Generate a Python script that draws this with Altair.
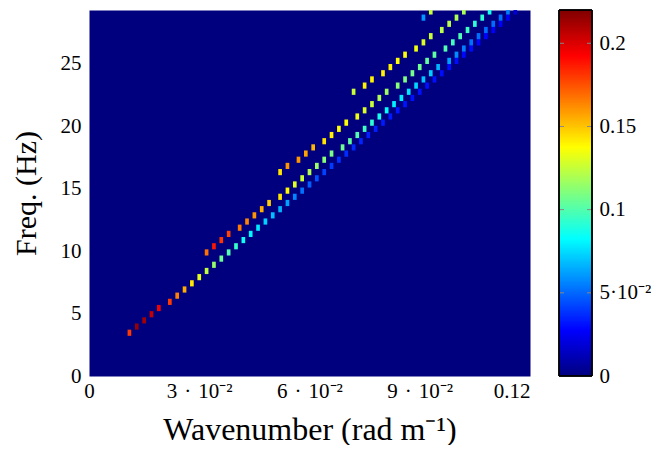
import altair as alt
import pandas as pd
import numpy as np

# spectral grid resolution (cell size of the image)
dk = 0.001      # rad/m
df_hz = 0.4943  # Hz

# centre frequencies of the rows that hold energy (rows 7 .. 59)
freq_hz = [3.460, 3.954, 4.449, 4.943, 5.437, 5.932, 6.426, 6.920, 7.415, 7.909,
           8.403, 8.897, 9.392, 9.886, 10.380, 10.875, 11.369, 11.863, 12.358, 12.852,
           13.346, 13.840, 14.335, 14.829, 15.323, 15.818, 16.312, 16.806, 17.301, 17.795,
           18.289, 18.783, 19.278, 19.772, 20.266, 20.761, 21.255, 21.749, 22.244, 22.738,
           23.232, 23.726, 24.221, 24.715, 25.209, 25.704, 26.198, 26.692, 27.187, 27.681,
           28.175, 28.669, 29.164]

# mode 1 (fundamental), rows 7..59
mode1_k = [0.011, 0.013, 0.015, 0.017, 0.019, 0.022, 0.024, 0.026, 0.028, 0.030,
           0.032, 0.034, 0.036, 0.038, 0.040, 0.042, 0.044, 0.046, 0.048, 0.050,
           0.052, 0.054, 0.056, 0.058, 0.060, 0.062, 0.064, 0.066, 0.068, 0.070,
           0.072, 0.074, 0.076, 0.078, 0.080, 0.082, 0.084, 0.086, 0.088, 0.090,
           0.092, 0.094, 0.096, 0.098, 0.100, 0.102, 0.104, 0.106, 0.108, 0.110,
           0.112, 0.114, 0.116]
mode1_v = [0.180, 0.215, 0.212, 0.205, 0.195, 0.180, 0.165, 0.155, 0.142, 0.132,
           0.124, 0.115, 0.106, 0.100, 0.094, 0.086, 0.081, 0.078, 0.073, 0.069,
           0.066, 0.062, 0.056, 0.052, 0.048, 0.045, 0.042, 0.040, 0.038, 0.037,
           0.036, 0.035, 0.034, 0.034, 0.033, 0.033, 0.032, 0.032, 0.031, 0.031,
           0.031, 0.031, 0.030, 0.030, 0.030, 0.029, 0.029, 0.028, 0.028, 0.027,
           0.027, 0.026, 0.018]

# mode 2, rows 20..59
mode2_k = [0.032, 0.034, 0.036, 0.038, 0.041, 0.043, 0.045, 0.047, 0.049, 0.052,
           0.054, 0.056, 0.058, 0.060, 0.062, 0.064, 0.066, 0.069, 0.071, 0.073,
           0.075, 0.077, 0.079, 0.081, 0.083, 0.085, 0.087, 0.089, 0.091, 0.093,
           0.095, 0.098, 0.100, 0.102, 0.104, 0.106, 0.108, 0.110, 0.112, 0.114]
mode2_v = [0.168, 0.188, 0.181, 0.178, 0.166, 0.164, 0.160, 0.155, 0.148, 0.143,
           0.139, 0.131, 0.126, 0.121, 0.116, 0.112, 0.109, 0.106, 0.103, 0.100,
           0.096, 0.092, 0.087, 0.083, 0.080, 0.078, 0.077, 0.074, 0.070, 0.072,
           0.066, 0.062, 0.058, 0.055, 0.052, 0.052, 0.051, 0.051, 0.052, 0.055]

# mode 3, rows 33..59
mode3_k = [0.052, 0.054, 0.057, 0.059, 0.061, 0.064, 0.066, 0.068, 0.070, 0.073,
           0.075, 0.077, 0.079, 0.081, 0.084, 0.086, 0.088, 0.090, 0.092, 0.094,
           0.097, 0.099, 0.101, 0.103, 0.105, 0.107, 0.109]
mode3_v = [0.143, 0.160, 0.160, 0.157, 0.153, 0.143, 0.140, 0.137, 0.137, 0.134,
           0.130, 0.126, 0.120, 0.117, 0.112, 0.110, 0.108, 0.107, 0.104, 0.103,
           0.100, 0.097, 0.099, 0.096, 0.092, 0.092, 0.087]

# mode 4, rows 46..59
mode4_k = [0.072, 0.075, 0.077, 0.080, 0.082, 0.084, 0.086, 0.089, 0.091, 0.093,
           0.096, 0.098, 0.100, 0.102]
mode4_v = [0.126, 0.140, 0.140, 0.140, 0.140, 0.137, 0.137, 0.134, 0.130, 0.126,
           0.122, 0.122, 0.120, 0.119]

# mode 5, rows 58..59
mode5_k = [0.091, 0.093]
mode5_v = [0.060, 0.125]

x_ticks = [0, 0.03, 0.06, 0.09, 0.12]
y_ticks = [0, 5, 10, 15, 20, 25]
cb_ticks = [0, 0.05, 0.1, 0.15, 0.2]
cb_inner_ticks = [0.05, 0.1, 0.15, 0.2]

jet = ["#00007f", "#0000ff", "#007fff", "#00ffff", "#7fff7f",
       "#ffff00", "#ff7f00", "#ff0000", "#7f0000"]
vmax = 0.22

frames = []
for ks, vs, start in [(mode1_k, mode1_v, 0), (mode2_k, mode2_v, 13),
                      (mode3_k, mode3_v, 26), (mode4_k, mode4_v, 39),
                      (mode5_k, mode5_v, 51)]:
    fs = freq_hz[start:start + len(ks)]
    frames.append(pd.DataFrame({"k": ks, "f": fs, "v": vs}))
cells = pd.concat(frames, ignore_index=True)
cells["k0"] = cells["k"] - dk / 2
cells["k1"] = cells["k"] + dk / 2
cells["f0"] = cells["f"] - df_hz / 2
cells["f1"] = cells["f"] + df_hz / 2

FONT = "Liberation Serif"
color_scale = alt.Scale(domain=[0, vmax], range=jet, interpolate="rgb")

main = alt.Chart(cells).mark_rect(clip=True).encode(
    x=alt.X("k0:Q", title="Wavenumber (rad m⁻¹)",
            scale=alt.Scale(domain=[0, 0.12], nice=False, zero=False),
            axis=alt.Axis(values=x_ticks, ticks=False, domain=False, grid=False,
                          labelFlush=False,
                          labelAlign={"condition": {"test": "datum.value > 0.11", "value": "right"},
                                      "value": "center"},
                          labelPadding=4, titlePadding=13, titleFontSize=32,
                          labelExpr="datum.value < 0.001 ? '0' : datum.value > 0.11 ? '0.12' : format(datum.value*100, '.0f') + '\u2004·\u200410⁻²'")),
    x2="k1:Q",
    y=alt.Y("f0:Q", title="Freq. (Hz)",
            scale=alt.Scale(domain=[0, 29.28], nice=False, zero=False),
            axis=alt.Axis(values=y_ticks, ticks=False, domain=False, grid=False,
                          labelPadding=8, titlePadding=19)),
    y2="f1:Q",
    color=alt.Color("v:Q", scale=color_scale, legend=None),
).properties(width=441, height=366,
             view=alt.ViewBackground(fill="#00007f", strokeOpacity=0))

cb_df = pd.DataFrame({"c0": np.arange(0, vmax, 0.001)})
cb_df["c1"] = np.minimum(cb_df["c0"] + 0.002, vmax)
cb_df["cv"] = cb_df["c0"] + 0.0005
tick_df = pd.DataFrame({"t": cb_inner_ticks})

cb_axis = alt.Axis(orient="right", values=cb_ticks, ticks=False, domain=False,
                   grid=False, labelPadding=7, title=None,
                   labelExpr="datum.value == 0 ? '0' : datum.value < 0.07 ? '5·10⁻²' : format(datum.value, '.2~f')")
cb_scale = alt.Scale(domain=[0, vmax], nice=False, zero=False)

grad = alt.Chart(cb_df).mark_rect().encode(
    x=alt.value(0), x2=alt.value(33),
    y=alt.Y("c0:Q", scale=cb_scale, axis=cb_axis), y2="c1:Q",
    color=alt.Color("cv:Q", scale=color_scale, legend=None),
)
tl = alt.Chart(tick_df).mark_rule(color="#888888", strokeWidth=1).encode(
    x=alt.value(0), x2=alt.value(5), y=alt.Y("t:Q", scale=cb_scale, axis=cb_axis))
tr = alt.Chart(tick_df).mark_rule(color="#888888", strokeWidth=1).encode(
    x=alt.value(28), x2=alt.value(33), y=alt.Y("t:Q", scale=cb_scale, axis=cb_axis))
border = alt.Chart(tick_df).mark_rect(fill=None, stroke="black", strokeWidth=1).encode(
    x=alt.value(0), x2=alt.value(33), y=alt.value(0), y2=alt.value(366))

cbar = alt.layer(grad, tl, tr, border).properties(
    width=33, height=366, view=alt.ViewBackground(strokeOpacity=0))

chart = alt.hconcat(main, cbar, spacing=28).resolve_scale(
    x="independent", y="independent"
).properties(
    padding={"left": 3, "top": 1, "right": 0, "bottom": 0},
    background="white",
).configure_axis(
    labelFont=FONT, labelFontSize=21, labelColor="black",
    titleFont=FONT, titleFontSize=30, titleFontWeight="normal", titleColor="black",
)

chart.save("out.html", embed_options={"renderer": "svg", "actions": False})
